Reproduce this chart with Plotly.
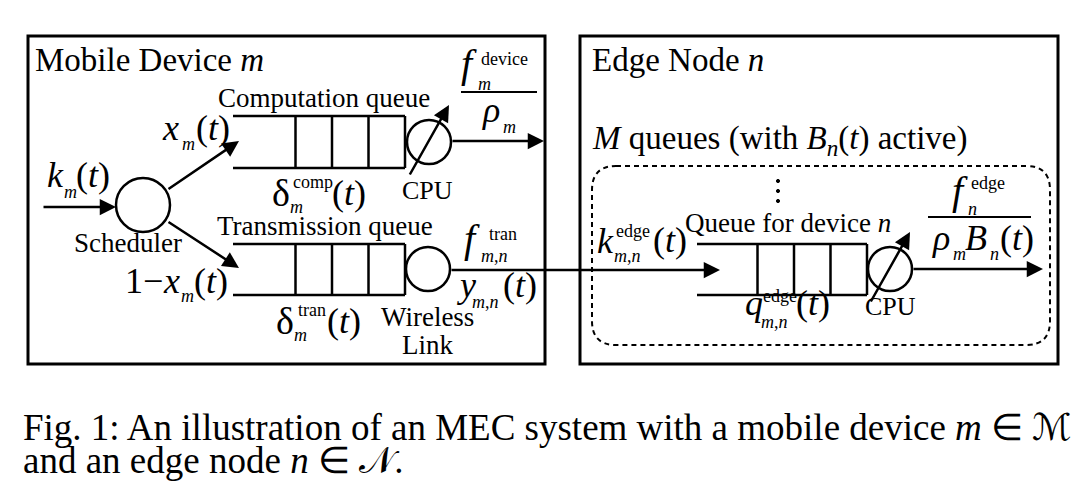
import plotly.graph_objects as go

# text content of the diagram
box_titles = ["Mobile Device <i>m</i>", "Edge Node <i>n</i>"]
queue_names = ["Computation queue", "Transmission queue", "Queue for device <i>n</i>"]
server_names = ["CPU", "Wireless", "Link", "CPU"]
pool_label = "<i>M</i> queues (with <i>B</i><sub><i>n</i></sub>(<i>t</i>) active)"
scheduler_name = "Scheduler"
slots_per_queue = 3
caption_lines = [
    "Fig. 1: An illustration of an MEC system with a mobile device <i>m</i> \u2208 \u2133",
    "and an edge node <i>n</i> \u2208 \U0001D4A9.",
]

SERIF = "Liberation Serif"
W, H = 1083, 489
OFF = 8          # page body margin, so coordinates below are window pixels
LW = 2.5
BIG, SMALL = 36, 18

fig = go.Figure()


def put(x, y, s, size=27, anchor="left"):
    fig.add_annotation(x=x, y=y, text=s, showarrow=False, xanchor=anchor,
                       yanchor="middle", borderpad=0,
                       font=dict(family=SERIF, size=size, color="black"))


def sym(x, base, s, size=BIG):
    # place text by its baseline
    put(x, base - 0.33 * size, s, size)


def line(x0, y0, x1, y1, w=LW, dash=None):
    fig.add_shape(type="line", x0=x0, y0=y0, x1=x1, y1=y1,
                  line=dict(color="black", width=w, dash=dash))


def circle(cx, cy, r, fill=None, w=LW):
    fig.add_shape(type="circle", x0=cx - r, x1=cx + r, y0=cy - r, y1=cy + r,
                  line=dict(color="black", width=w), fillcolor=fill)


def arrow(x0, y0, x1, y1):
    fig.add_annotation(x=x1, y=y1, ax=x0, ay=y0, xref="x", yref="y",
                       axref="x", ayref="y", text="", showarrow=True,
                       arrowhead=2, arrowsize=1.3, arrowwidth=LW,
                       arrowcolor="black", standoff=0, startstandoff=0)


def queue(x_open, x_end, y_top, y_bot, slot=36.5):
    line(x_open, y_top, x_end, y_top)
    line(x_open, y_bot, x_end, y_bot)
    line(x_end, y_top, x_end, y_bot)
    for k in range(1, slots_per_queue + 1):
        xd = x_end - k * slot
        line(xd, y_top, xd, y_bot)


def cpu(cx, cy, r=22):
    circle(cx, cy, r)
    arrow(cx - 20, cy + 34, cx + 20, cy - 37)


# outer boxes
fig.add_shape(type="rect", x0=28, y0=36, x1=545, y1=364, line=dict(color="black", width=3))
fig.add_shape(type="rect", x0=580, y0=36, x1=1058, y1=364, line=dict(color="black", width=3))
put(34, 60, box_titles[0], 33)
put(591, 60, box_titles[1], 33)

# rounded dashed group of M queues
r = 24
x0, y0, x1, y1 = 592, 166, 1050, 345
path = (f"M {x0 + r},{y0} L {x1 - r},{y0} Q {x1},{y0} {x1},{y0 + r} "
        f"L {x1},{y1 - r} Q {x1},{y1} {x1 - r},{y1} L {x0 + r},{y1} "
        f"Q {x0},{y1} {x0},{y1 - r} L {x0},{y0 + r} Q {x0},{y0} {x0 + r},{y0} Z")
fig.add_shape(type="path", path=path, line=dict(color="black", width=2, dash="5px,4px"))
put(591, 140, pool_label, 33)
for yy in (181, 191, 201):
    circle(778, yy, 1.6, fill="black", w=1)

# scheduler
circle(143, 205, 27)
arrow(42, 207, 116, 207)
arrow(167, 190, 239, 141)
arrow(167, 221, 239, 268)
put(128, 243, scheduler_name, 27, "center")
sym(46, 187, "<i>k</i>")
sym(63, 198, "<i>m</i>", SMALL)
sym(75, 187, "(<i>t</i>)")
sym(161, 140, "<i>x</i>")
sym(181, 150, "<i>m</i>", SMALL)
sym(195, 140, "(<i>t</i>)")
sym(124, 293, "1\u2212")
sym(162, 293, "<i>x</i>")
sym(180, 302, "<i>m</i>", SMALL)
sym(193, 293, "(<i>t</i>)")

# computation queue + local CPU
queue(233, 405, 116, 168)
put(324, 98, queue_names[0], 27, "center")
cpu(429, 142)
arrow(451, 141, 544, 141)
put(427, 190, server_names[0], 26, "center")
sym(271, 206, "\u03b4", 38)
sym(292, 188, "comp", SMALL)
sym(289, 213, "<i>m</i>", SMALL)
sym(331, 205, "(<i>t</i>)")
sym(460, 77, "<i>f</i>", 40)
sym(480, 65, "device", SMALL)
sym(477, 90, "<i>m</i>", SMALL)
line(461, 92, 537, 92, w=2)
sym(481, 122, "<i>\u03c1</i>")
sym(502, 133, "<i>m</i>", SMALL)

# transmission queue + wireless link
queue(233, 405, 244, 295)
put(325, 226, queue_names[1], 27, "center")
circle(428, 269, 22)
put(427, 317, server_names[1], 27, "center")
put(427, 345, server_names[2], 27, "center")
sym(275, 334, "\u03b4", 38)
sym(297, 316, "tran", SMALL)
sym(293, 341, "<i>m</i>", SMALL)
sym(326, 333, "(<i>t</i>)")
sym(463, 252, "<i>f</i>", 40)
sym(488, 240, "tran", SMALL)
sym(480, 262, "<i>m</i>,<i>n</i>", SMALL)
sym(456, 297, "<i>y</i>")
sym(471, 308, "<i>m</i>,<i>n</i>", SMALL)
sym(502, 297, "(<i>t</i>)")
arrow(450, 270, 720, 270)

# edge queue + edge CPU
queue(697, 867, 244, 295)
put(788, 223, queue_names[2], 27, "center")
cpu(890, 269)
arrow(912, 269, 1043, 269)
put(890, 306, server_names[3], 26, "center")
sym(596, 253, "<i>k</i>")
sym(615, 237, "edge", SMALL)
sym(613, 262, "<i>m</i>,<i>n</i>", SMALL)
sym(652, 252, "(<i>t</i>)")
sym(744, 315, "<i>q</i>")
sym(762, 302, "edge", SMALL)
sym(760, 328, "<i>m</i>,<i>n</i>", SMALL)
sym(795, 315, "(<i>t</i>)")
sym(951, 204, "<i>f</i>", 40)
sym(970, 189, "edge", SMALL)
sym(967, 215, "<i>n</i>", SMALL)
line(928, 217, 1031, 217, w=2)
sym(931, 250, "<i>\u03c1</i>")
sym(952, 260, "<i>m</i>", SMALL)
sym(964, 250, "<i>B</i>")
sym(989, 260, "<i>n</i>", SMALL)
sym(999, 250, "(<i>t</i>)")

# caption
put(22, 427, caption_lines[0], 37)
put(22, 460, caption_lines[1], 37)

fig.update_xaxes(range=[OFF, W + OFF], visible=False, fixedrange=True)
fig.update_yaxes(range=[H + OFF, OFF], visible=False, fixedrange=True)
fig.update_layout(width=W, height=H, margin=dict(l=0, r=0, t=0, b=0),
                  plot_bgcolor="white", paper_bgcolor="white", showlegend=False)
fig.write_html("out.html")
